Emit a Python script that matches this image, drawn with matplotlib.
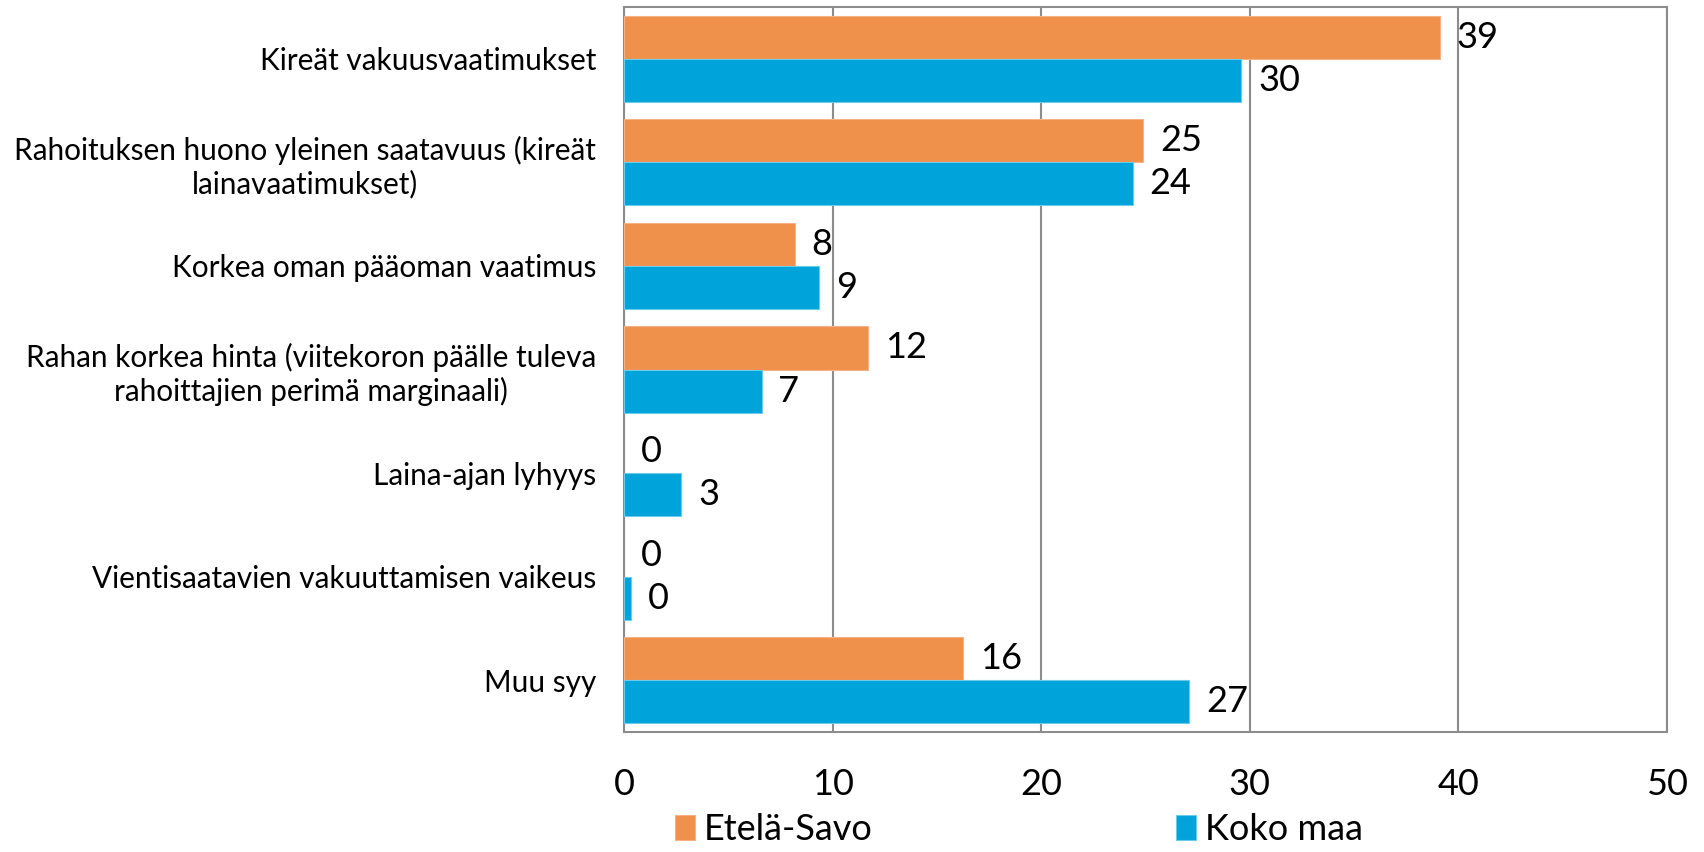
import matplotlib
matplotlib.use("Agg")
import matplotlib.pyplot as plt
import numpy as np

# data
categories = [
    "Kireät vakuusvaatimukset",
    "Rahoituksen huono yleinen saatavuus (kireät\nlainavaatimukset)",
    "Korkea oman pääoman vaatimus",
    "Rahan korkea hinta (viitekoron päälle tuleva\nrahoittajien perimä marginaali)",
    "Laina-ajan lyhyys",
    "Vientisaatavien vakuuttamisen vaikeus",
    "Muu syy",
]
etela_savo = [39.1, 24.9, 8.2, 11.7, 0.0, 0.0, 16.25]
koko_maa = [29.6, 24.4, 9.35, 6.6, 2.75, 0.33, 27.1]
series_names = ["Etelä-Savo", "Koko maa"]
x_ticks = [0, 10, 20, 30, 40, 50]

orange = "#F0914B"
blue = "#00A3DA"
grid_grey = "#8C8C8C"

plt.rcParams['font.family'] = ['Lato', 'DejaVu Sans']

fig = plt.figure(figsize=(17.04, 8.52), dpi=100)
ax = fig.add_axes([0.3662, 0.1408, 0.6121, 0.851])

y = np.arange(len(categories))
h = 0.416

b1 = ax.barh(y - h / 2, etela_savo, height=h, color=orange, edgecolor="#F5B285",
             linewidth=0.8, label=series_names[0], zorder=3)
b2 = ax.barh(y + h / 2, koko_maa, height=h, color=blue, edgecolor="#6CCBEB",
             linewidth=0.8, label=series_names[1], zorder=3)

for bars, vals in [(b1, etela_savo), (b2, koko_maa)]:
    for bar, v in zip(bars, vals):
        if v == 0:
            bar.set_linewidth(0)
        ax.annotate(f"{v:.0f}", (v, bar.get_y() + bar.get_height() / 2),
                    xytext=(12, 0), textcoords="offset points",
                    ha="left", va="center", fontsize=26, color="black", zorder=4)

ax.set_xlim(0, 50)
ax.set_ylim(len(categories) - 0.5, -0.5)
ax.set_xticks(x_ticks)
ax.set_xticklabels([str(t) for t in x_ticks], fontsize=26)
ax.set_yticks(y)
ax.set_yticklabels(categories, fontsize=21.4, multialignment="center")
ax.tick_params(axis="both", length=0)
ax.tick_params(axis="y", pad=20)
ax.tick_params(axis="x", pad=26)

ax.xaxis.grid(True, color=grid_grey, linewidth=1.5, zorder=0)
ax.set_axisbelow(True)
for s in ax.spines.values():
    s.set_color(grid_grey)
    s.set_linewidth(1.5)

fig.legend(handles=[b1, b2], labels=series_names, loc="center",
           bbox_to_anchor=(0.598, 0.026), ncol=2, frameon=False, fontsize=26,
           handlelength=0.55, handleheight=0.7, handletextpad=0.25,
           columnspacing=8.4, borderaxespad=0)

fig.savefig("out.png", dpi=100, facecolor="white")
